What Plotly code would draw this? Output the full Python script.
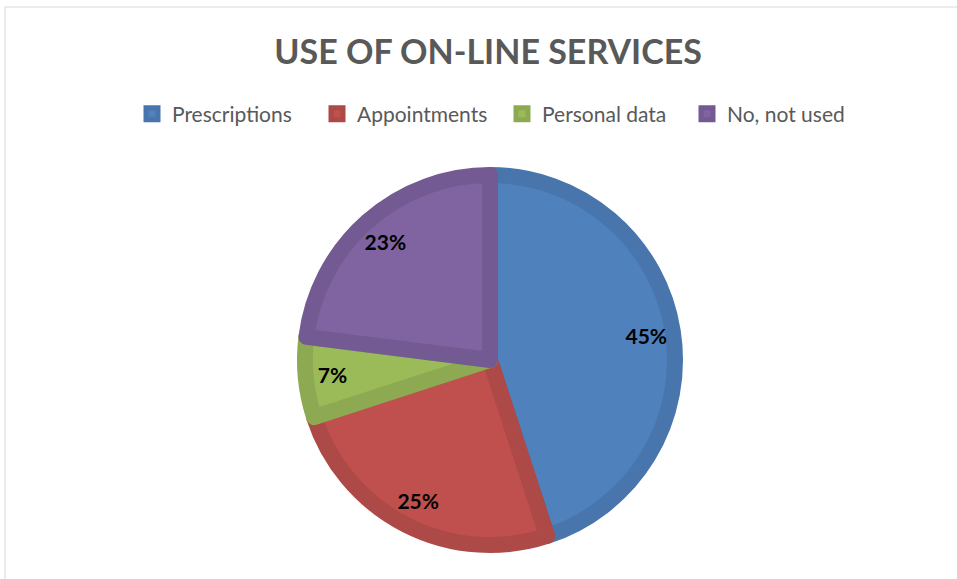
import plotly.graph_objects as go

# Share of respondents by on-line service used
categories = ["Prescriptions", "Appointments", "Personal data", "No, not used"]
shares = [45, 25, 7, 23]

fill_colors = ["#4F81BD", "#C0504D", "#9BBB59", "#8064A2"]
edge_colors = ["#4875AC", "#AD4946", "#8DAA52", "#735A92"]

W, H = 957, 579
cx, cy, r = 490, 360, 185  # pie centre and radius in pixels
dom_x = [(cx - r) / W, (cx + r) / W]
dom_y = [(H - cy - r) / H, (H - cy + r) / H]

fig = go.Figure()

# Filled slices with a darker rim in each slice's own hue
fig.add_trace(go.Pie(
    labels=categories,
    values=shares,
    sort=False,
    direction="clockwise",
    rotation=0,
    marker=dict(colors=fill_colors, line=dict(color=edge_colors, width=16)),
    textinfo="none",
    hoverinfo="label+percent",
    domain=dict(x=dom_x, y=dom_y),
    showlegend=True,
))

# Transparent ring used only to place the percentage labels near the rim
fig.add_trace(go.Pie(
    labels=categories,
    values=shares,
    sort=False,
    direction="clockwise",
    rotation=0,
    hole=0.71,
    marker=dict(colors=["rgba(0,0,0,0)"] * len(shares), line=dict(width=0)),
    texttemplate="%{value}%",
    textposition="inside",
    insidetextorientation="horizontal",
    textfont=dict(family="Lato", size=21, color="black", weight="bold"),
    hoverinfo="skip",
    domain=dict(x=dom_x, y=dom_y),
    showlegend=False,
))

fig.update_layout(
    width=W,
    height=H,
    margin=dict(l=0, r=0, t=0, b=0),
    paper_bgcolor="white",
    plot_bgcolor="white",
    title=dict(
        text="<b>USE OF ON-LINE SERVICES</b>",
        x=0.51,
        xanchor="center",
        y=1 - 52 / H,
        yanchor="middle",
        font=dict(family="Lato", size=34, color="#595959"),
    ),
    legend=dict(
        orientation="h",
        x=132 / W,
        xanchor="left",
        y=1 - 114 / H,
        yanchor="middle",
        font=dict(family="Lato", size=21, color="#595959"),
        itemwidth=30,
        entrywidth=140,
        entrywidthmode="pixels",
        traceorder="normal",
    ),
    shapes=[dict(
        type="rect",
        xref="paper", yref="paper",
        x0=5 / W, x1=1.02, y0=-0.02, y1=1 - 7 / H,
        line=dict(color="#D9D9D9", width=1),
        fillcolor="rgba(0,0,0,0)",
        layer="below",
    )],
)

fig.write_html("out.html")
